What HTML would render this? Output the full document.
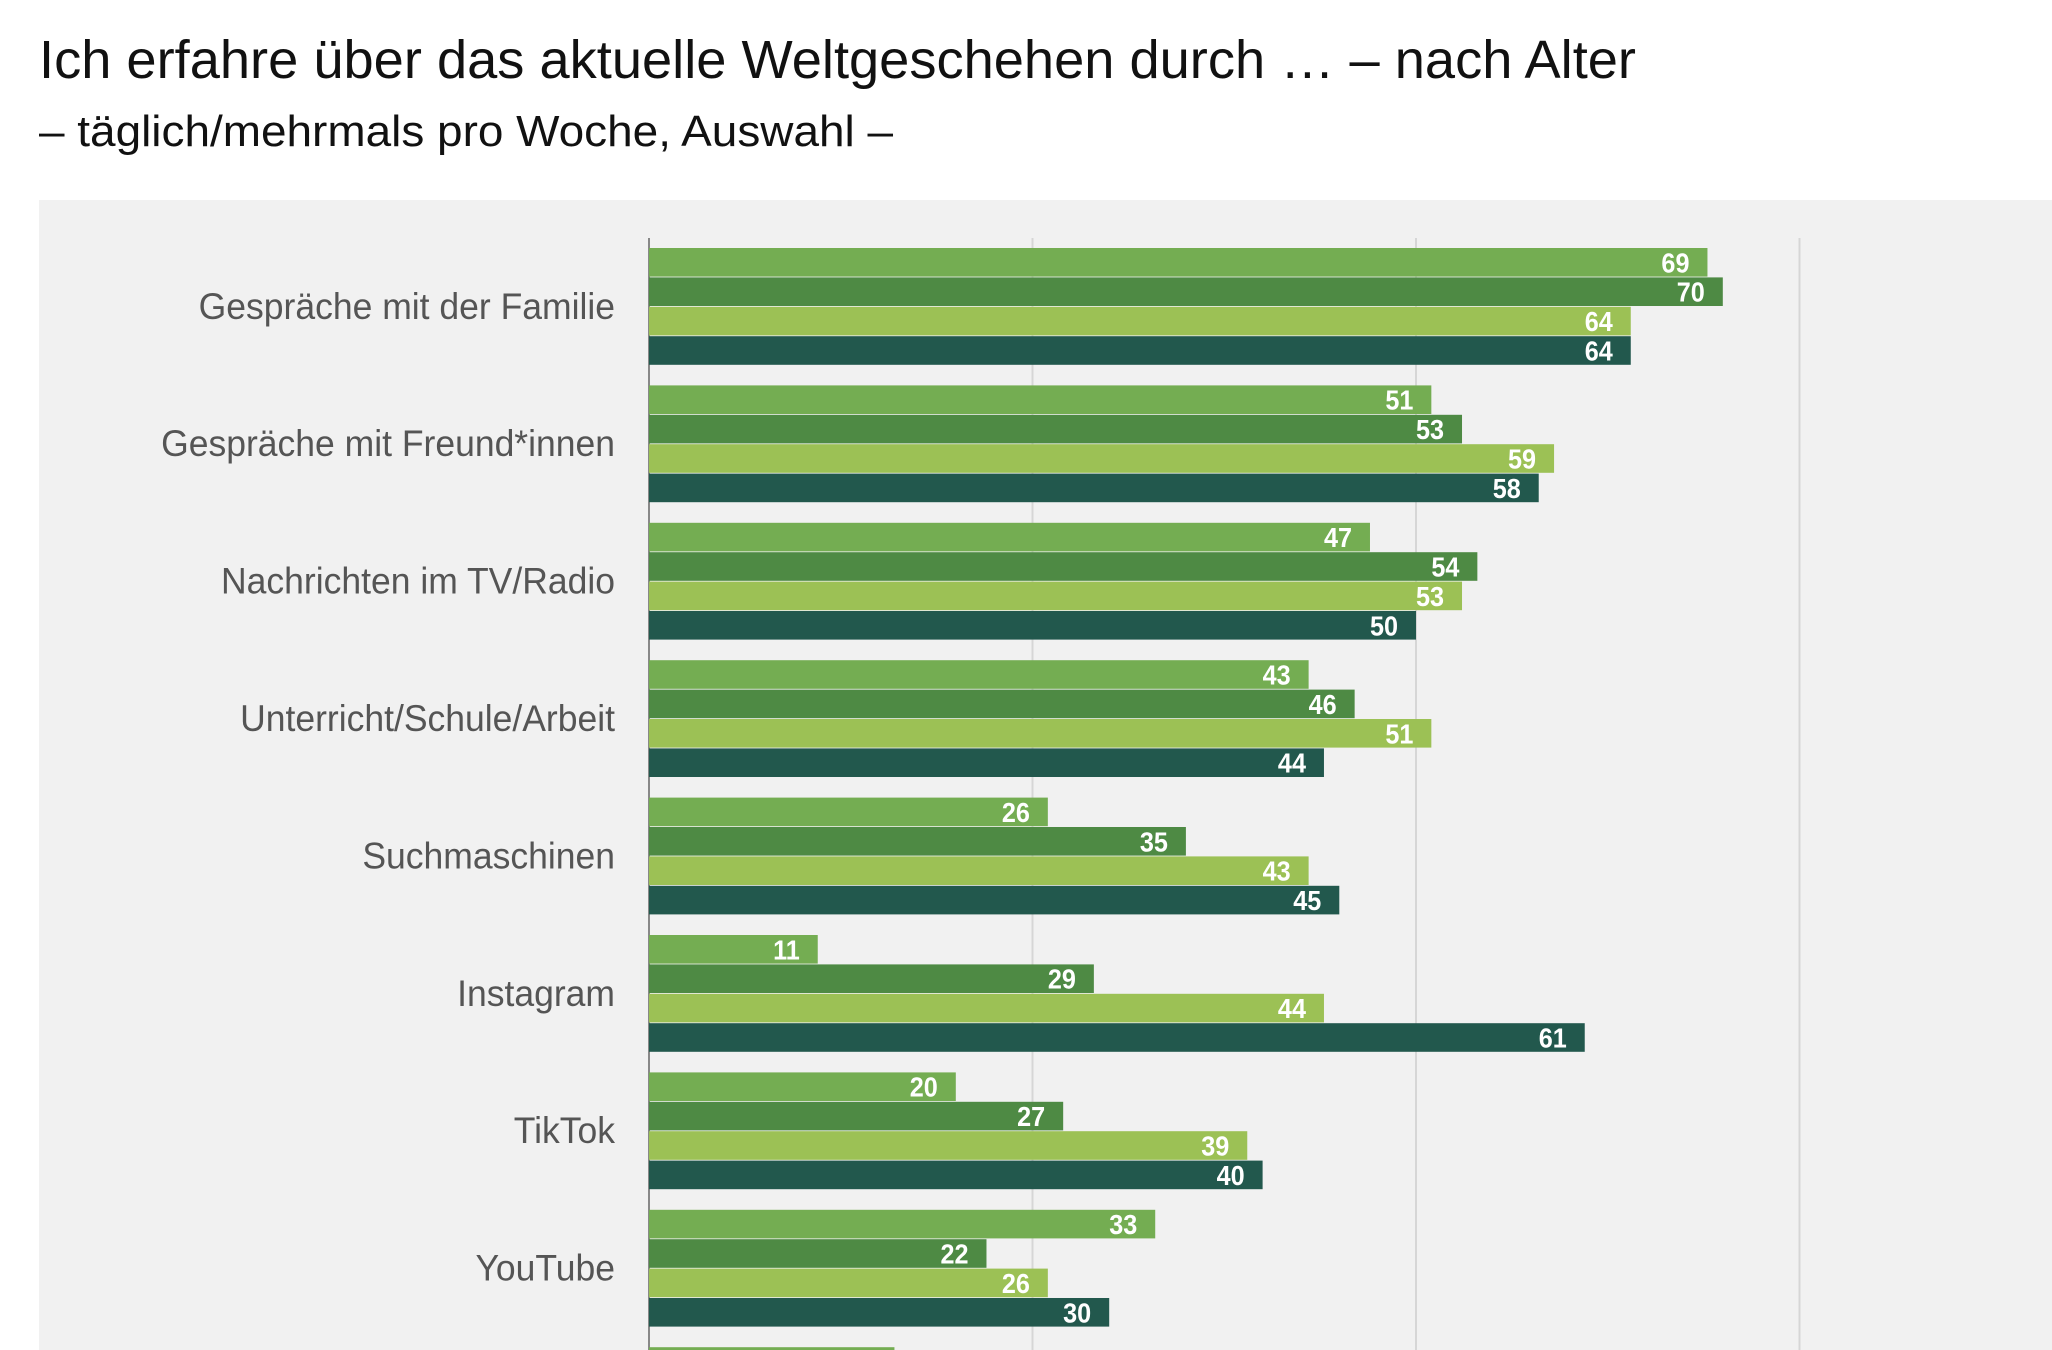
<!DOCTYPE html>
<html><head><meta charset="utf-8"><style>
html,body{margin:0;padding:0;background:#fff;width:2052px;height:1350px;overflow:hidden;}
svg{display:block;font-family:"Liberation Sans",sans-serif;}
</style></head><body>
<svg id="chart" width="2052" height="1350" viewBox="0 0 2052 1350" xmlns="http://www.w3.org/2000/svg" overflow="hidden">
<text x="39" y="78" font-size="54" fill="#111" textLength="1597" lengthAdjust="spacingAndGlyphs">Ich erfahre über das aktuelle Weltgeschehen durch … – nach Alter</text>
<text x="39" y="146" font-size="44" fill="#111" textLength="854" lengthAdjust="spacingAndGlyphs">– täglich/mehrmals pro Woche, Auswahl –</text>
<rect x="39" y="200" width="2013" height="1150" fill="#f1f1f1"/>
<g id="grid"></g>
<g id="bars"></g>
<g id="labels"></g>
</svg>
<script>
const categories = ["Gespräche mit der Familie","Gespräche mit Freund*innen","Nachrichten im TV/Radio","Unterricht/Schule/Arbeit","Suchmaschinen","Instagram","TikTok","YouTube",""];
const series1 = [69,51,47,43,26,11,20,33,16];
const series2 = [70,53,54,46,35,29,27,22,20];
const series3 = [64,59,53,51,43,44,39,26,20];
const series4 = [64,58,50,44,45,61,40,30,20];
const gridTicks = [0,25,50,75];
const seriesList = [series1,series2,series3,series4];
const colors = ["#74ad52","#4e8a44","#9cc155","#22584d"];
const NS = "http://www.w3.org/2000/svg";
const H = 1350;
const x0 = 649, unit = 15.34, top0 = 248, groupStep = 137.4, barStep = 29.4, barH = 28.6;
const xScale = v => x0 + v * unit;
const grid = document.getElementById('grid');
gridTicks.forEach((t, i) => {
  const l = document.createElementNS(NS, 'line');
  
  
  l.setAttribute('x1', xScale(t)); l.setAttribute('x2', xScale(t));
  l.setAttribute('y1', 238); l.setAttribute('y2', H);
  l.setAttribute('stroke', i === 0 ? '#888' : '#d6d6d6');
  l.setAttribute('stroke-width', 2);
  grid.appendChild(l);
});
const bars = document.getElementById('bars');
const labels = document.getElementById('labels');
categories.forEach((cat, gi) => {
  const gy = top0 + gi * groupStep;
  if (cat) {
    const t = document.createElementNS(NS, 'text');
    
    
    t.setAttribute('transform', `translate(615 ${gy + 2 * barStep + 12}) scale(0.96 1)`);
    t.setAttribute('text-anchor', 'end');
    t.setAttribute('font-size', '37');
    t.setAttribute('fill', '#555');
    t.textContent = cat;
    labels.appendChild(t);
  }
  seriesList.forEach((s, si) => {
    const v = s[gi];
    const y = gy + si * barStep;
    if (y >= H) return;
    const r = document.createElementNS(NS, 'rect');
    
    
    r.setAttribute('x', x0); r.setAttribute('y', y);
    r.setAttribute('width', xScale(v) - x0); r.setAttribute('height', Math.min(barH, H - y));
    r.setAttribute('fill', colors[si]);
    bars.appendChild(r);
    if (y + barH > H) return;
    const vt = document.createElementNS(NS, 'text');
    
    
    vt.setAttribute('transform', `translate(${xScale(v) - 18} ${y + barH / 2 + 10}) scale(0.9 1)`);
    vt.setAttribute('text-anchor', 'end');
    vt.setAttribute('font-size', '28');
    vt.setAttribute('font-weight', 'bold');
    vt.setAttribute('fill', '#fff');
    vt.textContent = v;
    labels.appendChild(vt);
  });
});
</script>
</body></html>
